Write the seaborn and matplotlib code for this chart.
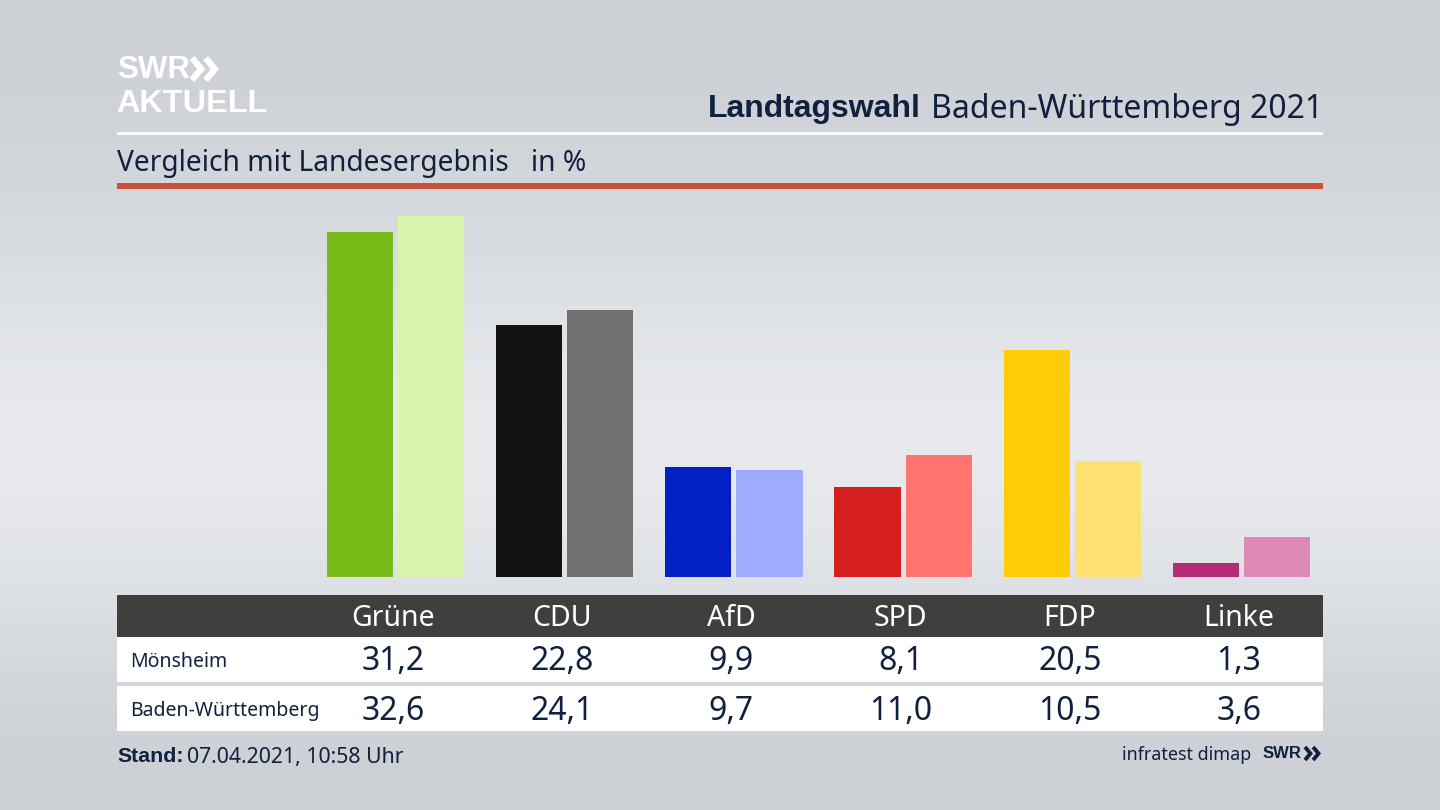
import numpy as np
import pandas as pd
import matplotlib.pyplot as plt
from matplotlib.patches import Rectangle
from matplotlib.transforms import blended_transform_factory
import seaborn as sns

# Data
parties = ["Grüne", "CDU", "AfD", "SPD", "FDP", "Linke"]
regions = ["Mönsheim", "Baden-Württemberg"]
moensheim = [31.2, 22.8, 9.9, 8.1, 20.5, 1.3]
land = [32.6, 24.1, 9.7, 11.0, 10.5, 3.6]
colors_moensheim = ["#78bc19", "#131313", "#0220c4", "#d51f1f", "#ffcc07", "#b52d79"]
colors_land = ["#d6f5ab", "#71706e", "#9eabff", "#ff746f", "#ffe173", "#de88b8"]

title_bold = "Landtagswahl"
title_rest = "Baden-Württemberg 2021"
subtitle = "Vergleich mit Landesergebnis   in %"
stand_bold = "Stand:"
stand_rest = "07.04.2021, 10:58 Uhr"
source = "infratest dimap"

NAVY = "#10203f"
FONT = "Noto Sans"
BOLD = "Liberation Sans"

sns.set_theme(style="white")
plt.rcParams["font.family"] = [FONT, "DejaVu Sans"]

fig = plt.figure(figsize=(14.4, 8.1), dpi=100)

# Full figure layer, in pixels, for the background and the header/table furniture
bg = fig.add_axes([0, 0, 1, 1], zorder=0)
grad_r = [205, 207, 210, 215, 222, 229, 232, 230, 223, 215, 208, 205]
grad_g = [208, 210, 213, 218, 225, 231, 234, 232, 226, 218, 211, 208]
grad_b = [213, 215, 217, 222, 229, 235, 238, 236, 230, 222, 215, 212]
grad = np.stack([grad_r, grad_g, grad_b], axis=-1)[:, None, :] / 255
bg.imshow(grad, extent=(0, 1440, 810, 0), aspect="auto", interpolation="bicubic", zorder=0)
bg.set_xlim(0, 1440)
bg.set_ylim(810, 0)
bg.axis("off")

bg.add_patch(Rectangle((117, 132), 1206, 3, color="white", lw=0, zorder=1))
bg.add_patch(Rectangle((117, 183), 1206, 6, color="#c9523a", lw=0, zorder=1))
bg.add_patch(Rectangle((117, 595), 1206, 42, color="#403f3d", lw=0, zorder=1))
bg.add_patch(Rectangle((117, 637), 1206, 45, color="white", lw=0, zorder=1))
bg.add_patch(Rectangle((117, 686), 1206, 45, color="white", lw=0, zorder=1))

# Bars
df = pd.DataFrame({
    "party": parties * 2,
    "region": [regions[0]] * 6 + [regions[1]] * 6,
    "value": moensheim + land,
})
ax = fig.add_axes([119.5 / 1440, (810 - 577) / 810, 1206 / 1440, 377 / 810], zorder=2)
ax.patch.set_alpha(0)
sns.barplot(data=df, x="party", y="value", hue="region", order=parties, hue_order=regions,
            width=0.842, gap=0.07, legend=False, errorbar=None, ax=ax)
for container, cols in zip(ax.containers, [colors_moensheim, colors_land]):
    for bar, col in zip(container, cols):
        bar.set_facecolor(col)
        bar.set_linewidth(0)
ax.set_xlim(-276 / 169.2, 930 / 169.2)
ax.set_ylim(0, 377 / 11.07)
ax.axis("off")

# Table text, centred on the split between the two bars of a party minus a small offset
top = fig.add_axes([0, 0, 1, 1], zorder=3)
top.set_xlim(0, 1440)
top.set_ylim(810, 0)
top.axis("off")
trans = blended_transform_factory(ax.transData, top.transData)
shift = 2.5 / 169.2
for i, party in enumerate(parties):
    top.text(i - shift, 618, party, transform=trans, ha="center", va="center", color="white", fontsize=20.5)
    top.text(i - shift, 662, f"{moensheim[i]:.1f}".replace(".", ","), transform=trans, ha="center", va="center",
             color=NAVY, fontsize=23)
    top.text(i - shift, 711, f"{land[i]:.1f}".replace(".", ","), transform=trans, ha="center", va="center",
             color=NAVY, fontsize=23)
top.text(130.5, 662, regions[0], va="center", color=NAVY, fontsize=14)
top.text(130.5, 711, regions[1], va="center", color=NAVY, fontsize=14)

# Header text
top.text(1323, 109, title_rest, ha="right", va="center", color=NAVY, fontsize=23)
top.text(921, 108.5, title_bold, ha="right", va="center", color=NAVY, fontsize=23, fontweight="bold",
         family=BOLD)
top.text(117, 163, subtitle, va="center", color=NAVY, fontsize=20.3)

# Footer
top.text(117, 756, stand_bold, va="center", color=NAVY, fontsize=15.3, fontweight="bold", family=BOLD)
top.text(187, 757, stand_rest, va="center", color=NAVY, fontsize=15.3)
top.text(1251, 755.5, source, ha="right", va="center", color=NAVY, fontsize=12.9)


def chevrons(x, y, h, color, lw):
    # the two arrows of the SWR logo
    for dx in (0, h * 0.62):
        top.plot([x + dx, x + dx + h * 0.42, x + dx], [y - h / 2, y, y + h / 2], color=color, lw=lw,
                 solid_capstyle="butt", solid_joinstyle="miter")


# Logos
top.text(117, 70, "SWR", va="center", color="white", fontsize=22.5, fontweight="bold", family=BOLD)
chevrons(192, 69, 22, "white", 4.5)
top.text(116, 104.5, "AKTUELL", va="center", color="white", fontsize=23.3, fontweight="bold", family=BOLD)
top.text(1263, 754, "SWR", va="center", color=NAVY, fontsize=12, fontweight="bold", family=BOLD)
chevrons(1305, 753.5, 13, NAVY, 2.8)

fig.savefig("out.png", dpi=100)
